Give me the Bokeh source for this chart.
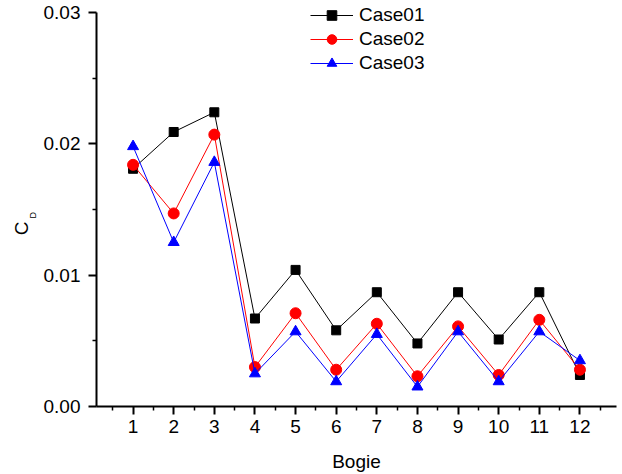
import math
from bokeh.plotting import figure
from bokeh.layouts import row
from bokeh.models import Range1d, FixedTicker, PrintfTickFormatter, Legend, LegendItem
from bokeh.core.properties import value
from bokeh.embed import file_html
from bokeh.resources import INLINE

# ---- data ----
bogie = [1, 2, 3, 4, 5, 6, 7, 8, 9, 10, 11, 12]
case01 = [0.0181, 0.0209, 0.0224, 0.0067, 0.0104, 0.0058, 0.0087, 0.0048, 0.0087, 0.0051, 0.0087, 0.0024]
case02 = [0.0184, 0.0147, 0.0207, 0.0030, 0.0071, 0.0028, 0.0063, 0.0023, 0.0061, 0.0024, 0.0066, 0.0028]
case03 = [0.0198, 0.0125, 0.0186, 0.0025, 0.0057, 0.0019, 0.0055, 0.0015, 0.0057, 0.0019, 0.0057, 0.0035]
series_names = ["Case01", "Case02", "Case03"]
y_ticks = [0.0, 0.01, 0.02, 0.03]
y_minor = [0.005, 0.015, 0.025]
x_minor = [b - 0.5 for b in bogie] + [bogie[-1] + 0.5]

FONT = "Liberation Sans"
FS = "19px"
W, H = 622, 474
SIDE_W = 40
FRAME_BOTTOM = 407          # px from top of page
PX_PER_AXIS = 395           # px spanned by 0 .. 0.03
y_top = y_ticks[-1] * FRAME_BOTTOM / PX_PER_AXIS   # frame starts at page top so legend is not clipped

yr = Range1d(0, y_top)

# ---- side strip holding the rotated y-axis title C_D (shares the y scale) ----
side = figure(width=SIDE_W, height=H, output_backend="svg", toolbar_location=None,
              x_range=Range1d(0, SIDE_W), y_range=yr,
              x_axis_type=None, y_axis_type=None, min_border=0)
side.min_border_left = side.min_border_right = 0
side.min_border_top = 0
side.min_border_bottom = H - FRAME_BOTTOM
side.outline_line_color = None
side.xgrid.visible = False
side.ygrid.visible = False
side.text(x=[20.9], y=[0.01357], text=["C"], angle=math.pi / 2, text_align="center",
          text_baseline="middle", text_font=value(FONT), text_font_size=value(FS), text_color="black")
side.text(x=[32.5], y=[0.01456], text=["D"], angle=math.pi / 2, text_align="center",
          text_baseline="middle", text_font=value(FONT), text_font_size=value("9px"), text_color="black")

# ---- main chart ----
p = figure(width=W - SIDE_W, height=H, output_backend="svg", toolbar_location=None,
           x_range=Range1d(0.1, 12.9), y_range=yr,
           min_border_left=96 - SIDE_W, min_border_right=6, min_border_top=0,
           min_border_bottom=H - FRAME_BOTTOM)
p.outline_line_color = None
p.xgrid.visible = False
p.ygrid.visible = False
p.background_fill_color = "white"
p.border_fill_color = "white"

for ax in (p.xaxis[0], p.yaxis[0]):
    ax.axis_line_width = 2
    ax.axis_line_color = "black"
    ax.major_tick_line_width = 2
    ax.minor_tick_line_width = 1.5
    ax.major_tick_line_color = "black"
    ax.minor_tick_line_color = "black"
    ax.major_tick_out = 8
    ax.major_tick_in = 0
    ax.minor_tick_out = 4
    ax.minor_tick_in = 0
    ax.major_label_text_font = FONT
    ax.major_label_text_font_size = FS
    ax.major_label_text_color = "black"

p.yaxis[0].ticker = FixedTicker(ticks=y_ticks, minor_ticks=y_minor)
p.yaxis[0].formatter = PrintfTickFormatter(format="%.2f")
p.yaxis[0].major_label_standoff = 8
p.yaxis[0].bounds = (y_ticks[0], y_ticks[-1])
p.xaxis[0].ticker = FixedTicker(ticks=bogie, minor_ticks=x_minor)
p.xaxis[0].major_label_standoff = 5
p.xaxis[0].axis_label = "Bogie"
p.xaxis[0].axis_label_text_font = FONT
p.xaxis[0].axis_label_text_font_size = FS
p.xaxis[0].axis_label_text_font_style = "normal"
p.xaxis[0].axis_label_text_color = "black"
p.xaxis[0].axis_label_standoff = 15

colors = ["black", "#FF0000", "#0000FF"]
markers = ["square", "circle", "triangle"]
sizes = [9, 11, 11]
items = []
for name, ys, c, m, s in zip(series_names, [case01, case02, case03], colors, markers, sizes):
    ln = p.line(bogie, ys, line_color=c, line_width=1)
    sc = p.scatter(bogie, ys, marker=m, size=s, fill_color=c, line_color=c)
    items.append(LegendItem(label=name, renderers=[ln, sc]))

legend = Legend(items=items, location=(214, 331), glyph_width=43, glyph_height=24,
                label_height=24, padding=0, spacing=0, margin=0, label_standoff=6,
                border_line_color=None, background_fill_alpha=0,
                label_text_font=FONT, label_text_font_size=FS, label_text_color="black")
p.add_layout(legend)

layout = row(side, p, spacing=0)
open("out.html", "w").write(file_html(layout, INLINE))
